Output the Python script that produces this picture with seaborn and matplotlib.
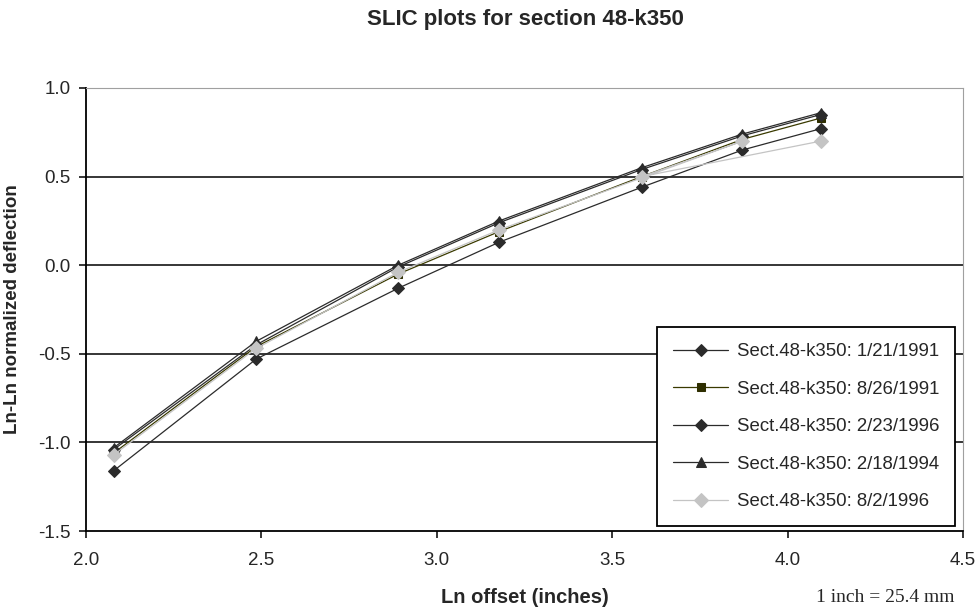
import pandas as pd
import seaborn as sns
import matplotlib.pyplot as plt

# ln of offsets 8, 12, 18, 24, 36, 48, 60 inches
ln_offset = [2.079, 2.485, 2.890, 3.178, 3.584, 3.871, 4.094]
# the 8/2/1996 series is stored out of order, so its line doubles back
ln_offset_aug96 = [2.079, 2.485, 2.890, 3.178, 3.871, 3.584, 4.094]

jan91 = [-1.16, -0.53, -0.13, 0.13, 0.44, 0.65, 0.77]
aug91 = [-1.06, -0.46, -0.05, 0.19, 0.50, 0.71, 0.83]
feb96 = [-1.04, -0.45, -0.01, 0.24, 0.54, 0.73, 0.85]
feb94 = [-1.03, -0.43, 0.00, 0.25, 0.55, 0.74, 0.86]
aug96 = [-1.07, -0.47, -0.04, 0.20, 0.70, 0.50, 0.70]

labels = ["Sect.48-k350: 1/21/1991", "Sect.48-k350: 8/26/1991",
          "Sect.48-k350: 2/23/1996", "Sect.48-k350: 2/18/1994",
          "Sect.48-k350: 8/2/1996"]

sns.set_style("white")
plt.rcParams['font.family'] = ['Liberation Sans', 'DejaVu Sans']

fig = plt.figure(figsize=(9.77, 6.11), dpi=100)
ax = fig.add_axes([0.088, 0.1309, 0.8977, 0.7251])

series = [
    (ln_offset, jan91, "#2b2b2b", "#2b2b2b", "D", 6.0),
    (ln_offset, aug91, "#3a3a00", "#2e2e00", "s", 6.0),
    (ln_offset, feb96, "#2b2b2b", "#2b2b2b", "D", 6.0),
    (ln_offset, feb94, "#2b2b2b", "#2b2b2b", "^", 7.5),
    (ln_offset_aug96, aug96, "#c4c4c4", "#c4c4c4", "D", 7.5),
]

for (xs, ys, lc, mc, mk, ms), lab in zip(series, labels):
    df = pd.DataFrame({"x": xs, "y": ys})
    sns.lineplot(data=df, x="x", y="y", sort=False, ax=ax, color=lc,
                 linewidth=0.9, marker=mk, markersize=ms,
                 markerfacecolor=mc, markeredgecolor=mc, label=lab)

ax.set_xlim(2.0, 4.5)
ax.set_ylim(-1.5, 1.0)
ax.set_xticks([2.0, 2.5, 3.0, 3.5, 4.0, 4.5])
ax.set_yticks([-1.5, -1.0, -0.5, 0.0, 0.5, 1.0])
ax.set_xticklabels(["2.0", "2.5", "3.0", "3.5", "4.0", "4.5"])
ax.set_yticklabels(["-1.5", "-1.0", "-0.5", "0.0", "0.5", "1.0"])

for yv in [-1.0, -0.5, 0.0, 0.5]:
    ax.axhline(yv, color="black", linewidth=1.1, zorder=0.5)

for side in ["left", "bottom"]:
    ax.spines[side].set_color("black")
    ax.spines[side].set_linewidth(1.3)
for side in ["top", "right"]:
    ax.spines[side].set_color("#a0a0a0")
    ax.spines[side].set_linewidth(0.8)

ax.tick_params(axis="both", which="major", direction="out", length=5,
               width=1.1, color="black", labelsize=13.5, pad=6,
               left=True, bottom=True)
ax.tick_params(axis="x", pad=10)

ax.set_xlabel("Ln offset (inches)", fontsize=14.5, fontweight="bold",
              labelpad=14)
ax.set_ylabel("Ln-Ln normalized deflection", fontsize=13.5,
              fontweight="bold", labelpad=12)

fig.text(0.538, 1 - 20 / 611, "SLIC plots for section 48-k350",
         fontsize=16, fontweight="bold", ha="center", va="center")
fig.text(955 / 977, 1 - 597 / 611, "1 inch = 25.4 mm",
         fontsize=14, family="Liberation Serif", ha="right", va="center")

leg = ax.legend(loc="lower right", bbox_to_anchor=(0.991, 0.011),
                borderaxespad=0, fontsize=13.4, frameon=True, fancybox=False,
                labelspacing=1.1, handlelength=3.0, handletextpad=0.45,
                borderpad=0.85)
leg.get_frame().set_edgecolor("black")
leg.get_frame().set_linewidth(1.3)
leg.get_frame().set_facecolor("white")
leg.get_frame().set_alpha(1)

fig.savefig("out.png", dpi=100)
